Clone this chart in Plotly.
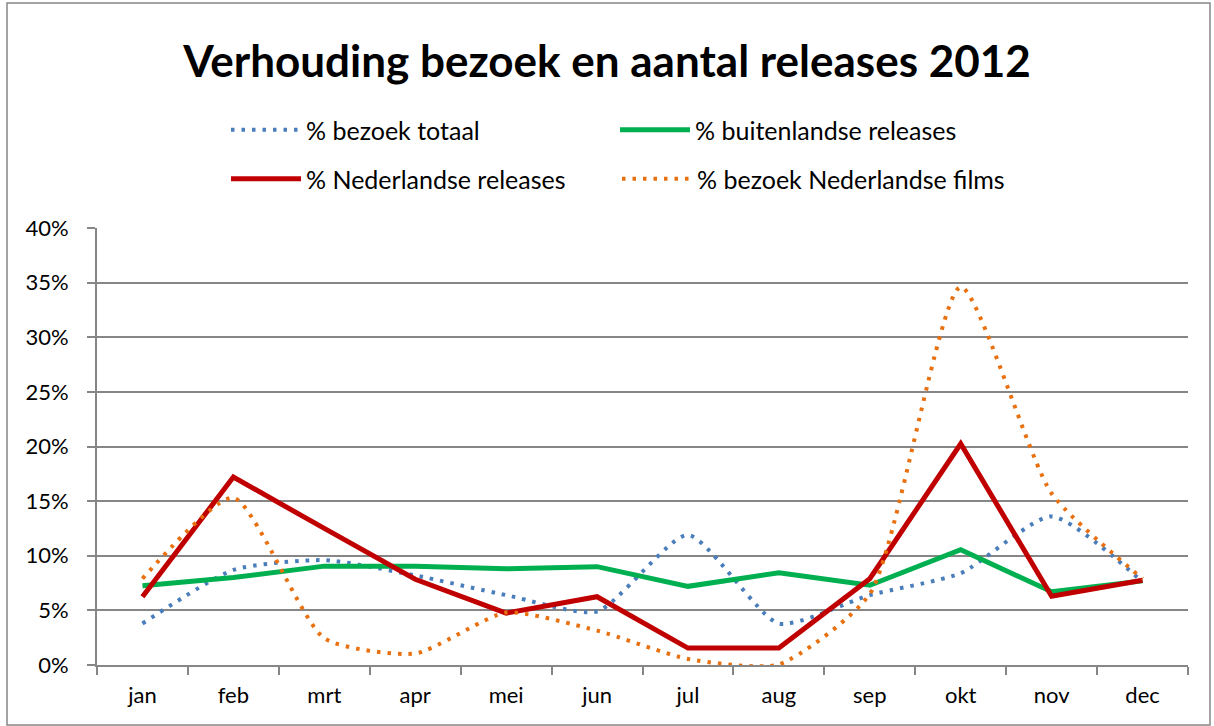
import plotly.graph_objects as go

months = ["jan", "feb", "mrt", "apr", "mei", "jun", "jul", "aug", "sep", "okt", "nov", "dec"]

# percentages
bezoek_totaal = [3.8, 8.7, 9.6, 8.2, 6.4, 4.9, 11.9, 3.8, 6.4, 8.4, 13.6, 7.6]
buitenlandse_releases = [7.25, 8.0, 9.05, 9.05, 8.8, 9.0, 7.2, 8.45, 7.3, 10.55, 6.7, 7.7]
nederlandse_releases = [6.25, 17.2, 12.5, 7.85, 4.75, 6.25, 1.55, 1.55, 7.9, 20.25, 6.3, 7.75]
bezoek_nl_films = [7.9, 15.3, 2.45, 1.05, 4.8, 3.15, 0.55, 0.05, 6.5, 34.6, 15.7, 7.9]

y_ticks = [0, 5, 10, 15, 20, 25, 30, 35, 40]

FONT = "Lato"
GRID = "#868686"

fig = go.Figure()

fig.add_trace(go.Scatter(
    name="% bezoek totaal", x=months, y=bezoek_totaal, mode="lines", legend="legend",
    line=dict(color="#4a7ebb", width=4, dash="3.5px,7px", shape="spline", smoothing=0.6),
))
fig.add_trace(go.Scatter(
    name="% buitenlandse releases", x=months, y=buitenlandse_releases, mode="lines",
    legend="legend2",
    line=dict(color="#00b050", width=5),
))
fig.add_trace(go.Scatter(
    name="% Nederlandse releases", x=months, y=nederlandse_releases, mode="lines",
    legend="legend3",
    line=dict(color="#c00000", width=5),
))
fig.add_trace(go.Scatter(
    name="% bezoek Nederlandse films", x=months, y=bezoek_nl_films, mode="lines",
    legend="legend4",
    line=dict(color="#e8700f", width=4, dash="3.5px,7px", shape="spline", smoothing=0.6),
))

# plot area: x 97..1188, y 228..665
L, R, T, B = 97, 26, 228, 61
pw, ph = 1214 - L - R, 726 - T - B


def legend_at(px, py):
    return dict(orientation="h", xanchor="left", yanchor="middle",
                x=(px - L) / pw, y=1 + (T - py) / ph,
                font=dict(family=FONT, size=25), itemwidth=70,
                bgcolor="rgba(0,0,0,0)")


fig.update_layout(
    width=1214, height=726,
    margin=dict(l=L, r=R, t=T, b=B, autoexpand=False),
    paper_bgcolor="white", plot_bgcolor="white",
    font=dict(family=FONT, size=22, color="black"),
    title=dict(text="<b>Verhouding bezoek en aantal releases 2012</b>",
               x=0.5, xanchor="center", y=1 - 62 / 726, yanchor="middle",
               font=dict(family=FONT, size=44, color="black")),
    showlegend=True,
    legend=legend_at(226, 130),
    legend2=legend_at(615, 130),
    legend3=legend_at(226, 179),
    legend4=legend_at(617, 179),
    xaxis=dict(
        type="category", showgrid=False, ticks="outside", tickson="boundaries",
        ticklen=8, tickcolor=GRID, tickwidth=2, ticklabelstandoff=10,
        showline=True, linecolor=GRID, linewidth=2, automargin=False,
        tickfont=dict(size=22), range=[-0.5, 11.5],
    ),
    yaxis=dict(
        range=[0, 40], tickvals=y_ticks, ticktext=[f"{v}%" for v in y_ticks],
        showgrid=True, gridcolor=GRID, gridwidth=2,
        showline=True, linecolor=GRID, linewidth=2, automargin=False,
        ticks="outside", ticklen=8, tickcolor=GRID, tickwidth=2, ticklabelstandoff=14,
        tickfont=dict(size=22), zeroline=False,
    ),
    shapes=[dict(type="rect", xref="paper", yref="paper",
                 x0=(7 - L) / pw, x1=(1210 - L) / pw,
                 y0=-(725 - 665) / ph, y1=1 + (T - 3) / ph,
                 line=dict(color=GRID, width=1.5))],
)

fig.write_html("out.html", config={"displayModeBar": False},
               post_script="document.body.style.margin='0';")
